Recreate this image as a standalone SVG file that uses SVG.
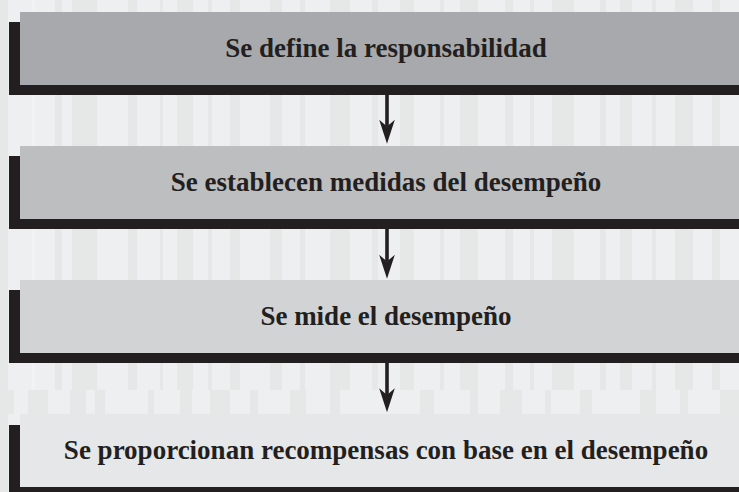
<svg xmlns="http://www.w3.org/2000/svg" width="739" height="492" viewBox="0 0 739 492">
<style>
.bg{fill:#eeeff0}
.sd{fill:#e6e8e7}
.sl{fill:#f1f2f3}
.shadow{fill:#231f20}
.lbl{font-family:"Liberation Serif","Times New Roman",serif;font-weight:bold;font-size:27px;fill:#231f20;text-anchor:middle}
.conn{stroke:#231f20;stroke-width:3.6;fill:none}
</style>
<defs>
<marker id="ah" markerUnits="userSpaceOnUse" markerWidth="24" markerHeight="16" viewBox="0 0 23 15" refX="6.5" refY="7.5" orient="auto">
<path d="M0,0 L23,7.5 L0,15 L6.5,7.5 Z" fill="#231f20"/>
</marker>
</defs>
<g id="background">
<rect class="bg" x="0" y="0" width="739" height="492"/>
<rect class="sd" x="0" y="0" width="8" height="492"/>
<rect class="sl" x="32" y="0" width="3" height="492"/>
<rect class="sd" x="55" y="0" width="7" height="492"/>
<rect class="sd" x="72" y="0" width="25" height="492"/>
<rect class="sd" x="128" y="0" width="9" height="492"/>
<rect class="sd" x="160" y="0" width="3" height="492"/>
<rect class="sd" x="177" y="0" width="16" height="492"/>
<rect class="sd" x="208" y="0" width="4" height="492"/>
<rect class="sd" x="230" y="0" width="10" height="492"/>
<rect class="sd" x="270" y="0" width="12" height="492"/>
<rect class="sd" x="300" y="0" width="5" height="492"/>
<rect class="sd" x="330" y="0" width="20" height="492"/>
<rect class="sd" x="372" y="0" width="6" height="492"/>
<rect class="sd" x="400" y="0" width="14" height="492"/>
<rect class="sd" x="440" y="0" width="4" height="492"/>
<rect class="sd" x="460" y="0" width="18" height="492"/>
<rect class="sd" x="505" y="0" width="8" height="492"/>
<rect class="sd" x="530" y="0" width="4" height="492"/>
<rect class="sd" x="552" y="0" width="22" height="492"/>
<rect class="sd" x="600" y="0" width="6" height="492"/>
<rect class="sd" x="620" y="0" width="12" height="492"/>
<rect class="sd" x="652" y="0" width="4" height="492"/>
<rect class="sd" x="675" y="0" width="18" height="492"/>
<rect class="sd" x="712" y="0" width="8" height="492"/>
<rect class="bg" x="0" y="390" width="739" height="24"/>
<rect class="sd" x="0" y="390" width="14" height="24"/>
<rect class="sd" x="28" y="390" width="20" height="24"/>
<rect class="sd" x="70" y="390" width="16" height="24"/>
<rect class="sd" x="95" y="390" width="10" height="24"/>
<rect class="sd" x="148" y="390" width="6" height="24"/>
<rect class="sd" x="180" y="390" width="12" height="24"/>
<rect class="sd" x="210" y="390" width="20" height="24"/>
<rect class="sd" x="250" y="390" width="8" height="24"/>
<rect class="sd" x="290" y="390" width="16" height="24"/>
<rect class="sd" x="330" y="390" width="10" height="24"/>
<rect class="sd" x="420" y="390" width="14" height="24"/>
<rect class="sd" x="470" y="390" width="8" height="24"/>
<rect class="sd" x="500" y="390" width="22" height="24"/>
<rect class="sd" x="545" y="390" width="6" height="24"/>
<rect class="sd" x="580" y="390" width="12" height="24"/>
<rect class="sd" x="640" y="390" width="16" height="24"/>
<rect class="sd" x="680" y="390" width="8" height="24"/>
<rect class="sd" x="720" y="390" width="19" height="24"/>
</g>
<g id="node1">
<rect class="shadow" x="9" y="22" width="740" height="73"/>
<rect x="20" y="12" width="740" height="73" fill="#a7a9ac"/>
<text class="lbl" x="386" y="57">Se define la responsabilidad</text>
</g>
<g id="node2">
<rect class="shadow" x="9" y="156" width="740" height="73"/>
<rect x="20" y="146" width="740" height="73" fill="#bcbec0"/>
<text class="lbl" x="386" y="191">Se establecen medidas del desempeño</text>
</g>
<g id="node3">
<rect class="shadow" x="9" y="290" width="740" height="73"/>
<rect x="20" y="280" width="740" height="73" fill="#d1d3d4"/>
<text class="lbl" x="386" y="325">Se mide el desempeño</text>
</g>
<g id="node4">
<rect class="shadow" x="9" y="425" width="740" height="73"/>
<rect x="20" y="414" width="740" height="73" fill="#e6e7e8"/>
<text class="lbl" x="386" y="459">Se proporcionan recompensas con base en el desempeño</text>
</g>
<g id="connectors">
<line class="conn" x1="387" y1="95" x2="387" y2="126.5" marker-end="url(#ah)"/>
<line class="conn" x1="387" y1="229" x2="387" y2="261.5" marker-end="url(#ah)"/>
<line class="conn" x1="387" y1="363" x2="387" y2="395" marker-end="url(#ah)"/>
</g>
</svg>
